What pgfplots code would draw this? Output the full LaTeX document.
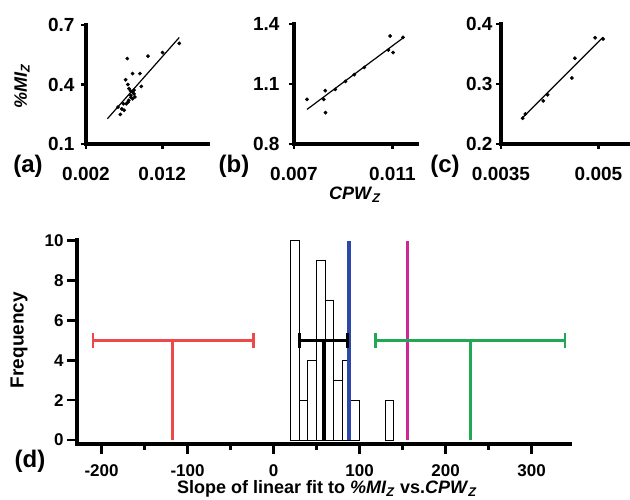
\documentclass[border=0pt]{standalone}
\usepackage{fontspec}
\setmainfont{Liberation Sans}
\usepackage{pgfplots}
\pgfplotsset{compat=1.18}
\definecolor{myred}{RGB}{238,72,72}
\definecolor{mygreen}{RGB}{34,168,84}
\definecolor{myblue}{RGB}{44,72,168}
\definecolor{mymag}{RGB}{205,40,150}
\newcommand{\tickfont}{\fontsize{19}{19}\selectfont\bfseries}
\newcommand{\tickfontd}{\fontsize{17}{17}\selectfont\bfseries}
\newcommand{\labfont}{\fontsize{18}{18}\selectfont\bfseries}
\newcommand{\letfont}{\fontsize{24}{24}\selectfont\bfseries}
\pgfplotsset{
  panel/.style={
    scale only axis, anchor=south west,
    axis lines=left, axis line style={-, line width=3.5pt, line cap=rect},
    tick align=outside, tick style={black, line width=2.5pt},
    major tick length=5pt,
    ticklabel style={font=\tickfont},
    scaled ticks=false, clip=false,
  },
  scat/.style={only marks, mark=*, mark size=1.7pt, black},
  fit/.style={black, line width=1.2pt, no marks},
}
\begin{document}
\begin{tikzpicture}
\path[use as bounding box] (0pt,0pt) rectangle (630pt,500pt);
% (a)
\begin{axis}[panel, at={(86pt,356pt)}, width=122pt, height=119pt,
  xmin=0.002, xmax=0.018, ymin=0.1, ymax=0.7,
  xticklabel style={yshift=-15pt},
  yticklabel style={xshift=-3pt},
  xtick={0.002,0.012}, xticklabels={0.002,0.012},
  ytick={0.1,0.4,0.7}, yticklabels={0.1,0.4,0.7}]
\addplot[scat] coordinates {
(0.01423,0.607) (0.01204,0.561) (0.01012,0.543) (0.00741,0.531)
(0.00811,0.455) (0.00907,0.455) (0.0072,0.424) (0.0075,0.400)
(0.00925,0.39) (0.00764,0.379) (0.00786,0.367) (0.0081,0.362)
(0.0083,0.353) (0.00786,0.345) (0.0084,0.337) (0.0081,0.328)
(0.0076,0.32) (0.0075,0.311) (0.0073,0.303) (0.0069,0.303)
(0.0062,0.286) (0.0067,0.277) (0.0065,0.249) (0.0070,0.270)
(0.0079,0.335) (0.0083,0.372)};
\addplot[fit] coordinates {(0.0048,0.227) (0.01423,0.637)};
\end{axis}
% (b)
\begin{axis}[panel, at={(294pt,356pt)}, width=123pt, height=120pt,
  xmin=0.007, xmax=0.012, ymin=0.8, ymax=1.4,
  xticklabel style={yshift=-15pt},
  yticklabel style={xshift=-6pt},
  xtick={0.007,0.011}, xticklabels={0.007,0.011},
  ytick={0.8,1.1,1.4}, yticklabels={0.8,1.1,1.4}]
\addplot[scat] coordinates {
(0.00753,1.023) (0.00827,1.067) (0.00821,1.023) (0.00828,0.957)
(0.00868,1.073) (0.00909,1.113) (0.00945,1.147) (0.00986,1.183)
(0.01091,1.34) (0.01084,1.27) (0.01103,1.257) (0.01143,1.333)};
\addplot[fit] coordinates {(0.00753,0.973) (0.01143,1.33)};
\end{axis}
% (c)
\begin{axis}[panel, at={(501pt,356pt)}, width=128pt, height=120pt,
  xmin=0.0035, xmax=0.00547, ymin=0.2, ymax=0.4,
  xticklabel style={yshift=-15pt},
  xtick={0.0035,0.005}, xticklabels={0.0035,0.005},
  ytick={0.2,0.3,0.4}, yticklabels={0.2,0.3,0.4}]
\addplot[scat] coordinates {
(0.003833,0.243) (0.003874,0.25) (0.00415,0.272) (0.004217,0.282)
(0.00459,0.31) (0.004637,0.343) (0.004949,0.377) (0.005072,0.375)};
\addplot[fit] coordinates {(0.003833,0.244) (0.005072,0.378)};
\end{axis}
% (d)
\begin{axis}[panel, at={(77pt,56pt)}, width=493pt, height=204.7pt,
  xmin=-228.5, xmax=344.7, ymin=-0.2, ymax=10.07,
  ticklabel style={font=\tickfontd},
  xticklabel style={yshift=-7pt},
  major tick length=10pt, minor tick length=6pt,
  minor tick style={line width=2.5pt},
  xtick={-200,-100,0,100,200,300}, xticklabels={-200,-100,0,100,200,300},
  minor xtick={-150,-50,50,150,250},
  ytick={0,2,4,6,8,10}, yticklabels={0,2,4,6,8,10}]
\addplot[ybar interval, draw=black, fill=white, line width=0.9pt] coordinates {
(20,10) (30,2) (40,4) (50,9) (60,7) (70,3) (80,4) (90,2) (100,2)};
\addplot[ybar interval, draw=black, fill=white, line width=0.9pt] coordinates {
(130,2) (140,2)};
% blue and magenta lines
\addplot[myblue, line width=3.3pt] coordinates {(87.7,0) (87.7,10)};
\addplot[mymag, line width=2.8pt] coordinates {(155.7,0) (155.7,10)};
% red
\addplot[myred, line width=2.7pt] coordinates {(-210,5) (-23.5,5)};
\addplot[myred, line width=2.7pt] coordinates {(-210,4.62) (-210,5.38)};
\addplot[myred, line width=2.7pt] coordinates {(-23.5,4.62) (-23.5,5.38)};
\addplot[myred, line width=2.7pt] coordinates {(-117.4,0) (-117.4,5)};
% green
\addplot[mygreen, line width=2.7pt] coordinates {(118.7,5) (338.8,5)};
\addplot[mygreen, line width=2.7pt] coordinates {(118.7,4.62) (118.7,5.38)};
\addplot[mygreen, line width=2.7pt] coordinates {(338.8,4.62) (338.8,5.38)};
\addplot[mygreen, line width=2.7pt] coordinates {(228.7,0) (228.7,5)};
% black
\addplot[black, line width=2.7pt] coordinates {(29.8,5) (85.8,5)};
\addplot[black, line width=2.7pt] coordinates {(29.8,4.62) (29.8,5.38)};
\addplot[black, line width=2.7pt] coordinates {(85.8,4.62) (85.8,5.38)};
\addplot[black, line width=4pt] coordinates {(58.4,0) (58.4,5)};
\end{axis}
% labels
\node[font=\letfont] at (28pt,334pt) {(a)};
\node[font=\letfont] at (234pt,334pt) {(b)};
\node[font=\letfont] at (445pt,334pt) {(c)};
\node[font=\letfont] at (30pt,39pt) {(d)};
\node[font=\labfont, rotate=90] at (22pt,414pt) {\textit{\%MI}\textsubscript{\textit{Z}}};
\node[font=\labfont] at (355pt,305pt) {\textit{CPW}\textsubscript{\textit{Z}}};
\node[font=\fontsize{19}{19}\selectfont\bfseries, rotate=90] at (19pt,160pt) {Frequency};
\node[font=\labfont] at (327pt,11pt) {Slope of linear fit to \textit{\%MI}\textsubscript{\textit{Z}} vs.\textit{CPW}\textsubscript{\textit{Z}}};
\end{tikzpicture}
\end{document}
